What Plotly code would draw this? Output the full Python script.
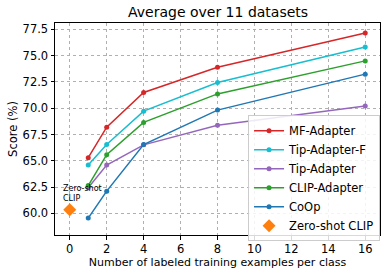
import plotly.graph_objects as go

shots = [1, 2, 4, 8, 16]
mf_adapter = [65.3, 68.2, 71.5, 73.9, 77.15]
tip_adapter_f = [64.6, 66.55, 69.72, 72.45, 75.82]
tip_adapter = [62.45, 64.6, 66.52, 68.38, 70.22]
clip_adapter = [62.65, 65.58, 68.65, 71.36, 74.5]
coop = [59.56, 62.12, 66.55, 69.82, 73.24]
zs_x = [0]
zs_y = [60.35]

series = [
    ("MF-Adapter", mf_adapter, "#d62728"),
    ("Tip-Adapter-F", tip_adapter_f, "#17becf"),
    ("Tip-Adapter", tip_adapter, "#9467bd"),
    ("CLIP-Adapter", clip_adapter, "#2ca02c"),
    ("CoOp", coop, "#1f77b4"),
]

fig = go.Figure()
for name, vals, col in series:
    fig.add_trace(go.Scatter(x=shots, y=vals, name=name, mode="lines+markers",
                             line=dict(color=col, width=1.5),
                             marker=dict(color=col, size=5, symbol="circle")))
fig.add_trace(go.Scatter(x=zs_x, y=zs_y, name="Zero-shot CLIP", mode="markers",
                         marker=dict(color="#ff7f0e", size=10, symbol="diamond")))

fig.add_annotation(x=-0.45, y=61.9, text="Zero-shot<br>CLIP", showarrow=False,
                   xanchor="left", yanchor="middle", align="left",
                   font=dict(size=8, color="#000000"))

axis_common = dict(showline=True, linecolor="black", linewidth=1, mirror=True,
                   ticks="outside", ticklen=3.5, tickcolor="black",
                   showgrid=True, gridcolor="#b0b0b0", griddash="dot", gridwidth=1,
                   zeroline=False, automargin=False,
                   tickfont=dict(size=11.5, color="black"))

fig.update_xaxes(range=[-0.8, 16.8], tickmode="array", tickvals=list(range(0, 17, 2)),
                 title=dict(text="Number of labeled training examples per class",
                            font=dict(size=11, color="black"), standoff=2),
                 **axis_common)
fig.update_yaxes(range=[57.95, 78.1], tickmode="array",
                 tickvals=[60.0, 62.5, 65.0, 67.5, 70.0, 72.5, 75.0, 77.5],
                 ticktext=["60.0", "62.5", "65.0", "67.5", "70.0", "72.5", "75.0", "77.5"],
                 title=dict(text="Score (%)", font=dict(size=11.5, color="black"), standoff=2),
                 **axis_common)

fig.update_layout(
    width=388, height=275,
    margin=dict(l=55, r=8, t=23, b=40, autoexpand=False),
    paper_bgcolor="white", plot_bgcolor="white",
    font=dict(family="DejaVu Sans", color="black"),
    title=dict(text="Average over 11 datasets", x=0.562, xanchor="center",
               y=0.975, yanchor="top", font=dict(size=14, color="black")),
    legend=dict(x=0.594, y=0.565, xanchor="left", yanchor="top",
                bgcolor="rgba(255,255,255,0.85)", bordercolor="#cccccc", borderwidth=1,
                font=dict(size=11.5, color="black"), tracegroupgap=0,
                itemwidth=30),
    showlegend=True,
)

fig.write_html("out.html", config={"displayModeBar": False},
               post_script="document.body.style.margin='0';")
